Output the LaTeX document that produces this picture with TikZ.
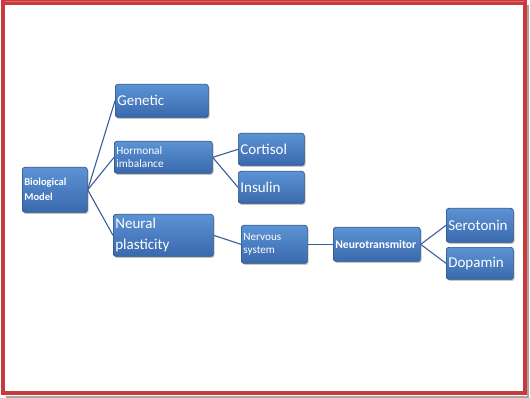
\documentclass[tikz,border=0pt]{standalone}
\usepackage{fontspec}
\setmainfont{Carlito}
\usetikzlibrary{shadows}
\definecolor{boxtop}{HTML}{5B93D4}
\definecolor{boxbot}{HTML}{3A69AD}
\definecolor{boxline}{HTML}{2D5289}
\definecolor{conn}{HTML}{3A5F98}
\definecolor{frame}{HTML}{C93B3B}
\definecolor{framehi}{HTML}{E86A68}
\begin{document}
\begin{tikzpicture}[x=1pt,y=-1pt,
  box/.style={draw=boxline, line width=0.7pt, rounded corners=2.5pt,
    top color=boxtop, bottom color=boxbot, text=white, align=left,
    anchor=north west, inner xsep=2pt, inner ysep=0pt,
    drop shadow={shadow xshift=1.2pt, shadow yshift=-1.5pt, fill=black!45, opacity=0.5}},
  big/.style={font=\fontsize{15}{17}\selectfont},
  small/.style={font=\fontsize{11.3}{13}\selectfont},
  conn/.style={draw=conn, line width=1.1pt}]
\useasboundingbox (0,0) rectangle (530,398);
\fill[white] (0,0) rectangle (530,398);
% frame
\draw[black!35, line width=2pt] (528,5) -- (528,396.5) -- (6,396.5);
\draw[frame, line width=4.5pt] (3.2,2.6) rectangle (525,393.2);
\draw[framehi, line width=1pt] (5,1.2) -- (523.5,1.2);
% boxes
\node[box, minimum width=65, minimum height=45, text width=61,
  font=\fontsize{10.5}{15}\selectfont\bfseries] (bio) at (22,167) {Biological\\Model};
\node[box, big, minimum width=93, minimum height=33, text width=89] (gen) at (115,84) {Genetic};
\node[box, small, minimum width=98, minimum height=32, text width=94] (hor) at (114,141) {Hormonal\\imbalance};
\node[box, big, minimum width=66, minimum height=32, text width=62] (cor) at (238,133) {Cortisol};
\node[box, big, minimum width=66, minimum height=32, text width=62] (ins) at (238,171) {Insulin};
\node[box, minimum width=100, minimum height=42, text width=96,
  font=\fontsize{15}{21}\selectfont] (neu) at (113,214) {Neural\\plasticity};
\node[box, minimum width=66, minimum height=38, text width=62,
  font=\fontsize{11.2}{12.5}\selectfont] (ner) at (241,225) {Nervous\\system};
\node[box, minimum width=87, minimum height=34, text width=83,
  font=\fontsize{11.6}{13}\selectfont\bfseries] (ntr) at (333,227) {Neurotransmitor};
\node[box, big, minimum width=67, minimum height=34, text width=63] (ser) at (446,208) {Serotonin};
\node[box, big, minimum width=67, minimum height=32, text width=63] (dop) at (446,247) {Dopamin};
% connectors
\draw[conn] (bio.east) -- (gen.west);
\draw[conn] (bio.east) -- (hor.west);
\draw[conn] (bio.east) -- (neu.west);
\draw[conn] (hor.east) -- (cor.west);
\draw[conn] (hor.east) -- (ins.west);
\draw[conn] (neu.east) -- (ner.west);
\draw[conn] (ner.east) -- (ntr.west);
\draw[conn] (ntr.east) -- (ser.west);
\draw[conn] (ntr.east) -- (dop.west);
\end{tikzpicture}
\end{document}
